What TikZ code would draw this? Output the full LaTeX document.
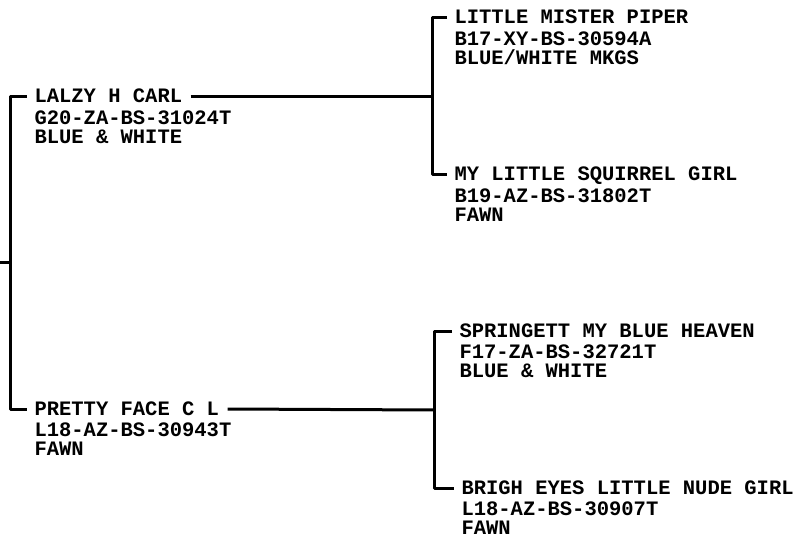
\documentclass[tikz,border=0pt]{standalone}
\usepackage{fontspec}
\setmonofont{Liberation Mono}
\usetikzlibrary{positioning}
\begin{document}
\begin{tikzpicture}[
		x=1pt, y=-1pt,
		line width=3pt,
		line join=round,
		horse/.style={anchor=base west, inner sep=0pt,
			font=\ttfamily\bfseries\fontsize{20.5}{19}\selectfont},
		info/.style={anchor=north west, inner sep=0pt, align=left,
			font=\ttfamily\bfseries\fontsize{20.5}{19}\selectfont}
		]
		
		\useasboundingbox (0,0) rectangle (797,534);
		
		% sire and dam
		\node[horse] (carl) at (33,103) {LALZY H CARL};
		\node[info] (carlinfo) at ([yshift=-6pt]carl.base west) 
		{G20-ZA-BS-31024T\\BLUE \& WHITE};
		\node[horse] (pretty) at (33,415) {PRETTY FACE C L};
		\node[info] (prettyinfo) at ([yshift=-6pt]pretty.base west) 
		{L18-AZ-BS-30943T\\FAWN};
		
		% grandparents
		\node[horse] (piper) at (453,24) {LITTLE MISTER PIPER};
		\node[info] (piperinfo) at ([yshift=-6pt]piper.base west) 
		{B17-XY-BS-30594A\\BLUE/WHITE MKGS};
		\node[horse] (squirrel) at (453,181) {MY LITTLE SQUIRREL GIRL};
		\node[info] (squirrelinfo) at ([yshift=-6pt]squirrel.base west) 
		{B19-AZ-BS-31802T\\FAWN};
		\node[horse] (springett) at (458,337) {SPRINGETT MY BLUE HEAVEN};
		\node[info] (springettinfo) at ([yshift=-6pt]springett.base west) 
		{F17-ZA-BS-32721T\\BLUE \& WHITE};
		\node[horse] (brigh) at (460,494) {BRIGH EYES LITTLE NUDE GIRL};
		\node[info] (brighinfo) at ([yshift=-6pt]brigh.base west) 
		{L18-AZ-BS-30907T\\FAWN};
		
		\coordinate (root) at (0,263);
		\coordinate (trunk) at (10,263);
		\coordinate (sirejoin) at (432,97);
		\coordinate (damjoin) at (434,410);
		
		\draw (root) -- (trunk);
		\draw ([xshift=-6pt,yshift=6pt]carl.base west) -| (trunk) 
		|- ([xshift=-6pt,yshift=6pt]pretty.base west);
		
		\draw ([xshift=7pt,yshift=6pt]carl.base east) -- (sirejoin);
		\draw ([xshift=-6pt,yshift=6pt]piper.base west) -| (sirejoin) 
		|- ([xshift=-6pt,yshift=6pt]squirrel.base west);
		
		\draw ([xshift=7pt,yshift=6pt]pretty.base east) -- (damjoin);
		\draw ([xshift=-6pt,yshift=6pt]springett.base west) -| (damjoin) 
		|- ([xshift=-6pt,yshift=6pt]brigh.base west);
		
\end{tikzpicture}
\end{document}
